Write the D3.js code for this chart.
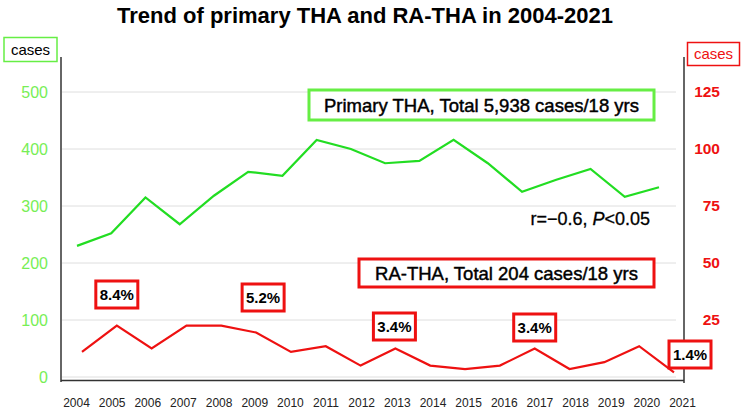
<!DOCTYPE html>
<html>
<head>
<meta charset="utf-8">
<script src="https://cdn.jsdelivr.net/npm/d3@7"></script>
<style>
  html, body { margin: 0; padding: 0; background: #fff; }
  svg { display: block; font-family: "Liberation Sans", Arial, sans-serif; }
</style>
</head>
<body>
<svg id="chart" width="742" height="412"></svg>
<script>
// ---- data ----
const years = [2004,2005,2006,2007,2008,2009,2010,2011,2012,2013,2014,2015,2016,2017,2018,2019,2020,2021];
const primaryTHA = [230,252,315,268,318,360,353,416,400,375,379,416,375,325,346,365,316,333];
const raTHA = [11,22.5,12.5,22.5,22.5,19.5,11,13.5,5,12.5,5,3.5,5,12.5,3.5,6.5,13.5,2];
const leftTicks = [0,100,200,300,400,500];
const rightTicks = [25,50,75,100,125];
const pctYears = [2005,2009,2013,2017,2021];
const pctLabels = ["8.4%","5.2%","3.4%","3.4%","1.4%"];
const titleText = "Trend of primary THA and RA-THA in 2004-2021";
const primaryLabel = "Primary THA, Total 5,938 cases/18 yrs";
const raLabel = "RA-THA, Total 204 cases/18 yrs";
const statLabel = ["r=\u22120.6, ", "P", "<0.05"];

// ---- layout ----
const svg = d3.select("#chart");
const GREEN_LINE = "#22dd22", GREEN_TXT = "#77ee55", GREEN_BOX = "#66ee44", RED = "#ee1111";
const xG = d3.scalePoint().domain(years).range([77, 659]);
const xR = d3.scalePoint().domain(years).range([82, 674]);
const xLab = d3.scalePoint().domain(years).range([76, 682]);
const yL = d3.scaleLinear().domain([0, 500]).range([377, 92]);
const yR = d3.scaleLinear().domain([0, 125]).range([377, 92]);

// gridlines
svg.append("g").selectAll("line").data(leftTicks).join("line")
  .attr("x1", 62).attr("x2", 676)
  .attr("y1", d => yL(d)).attr("y2", d => yL(d))
  .attr("stroke", "#dedede").attr("stroke-width", 1);

// left axis labels
const gl = svg.append("g").attr("transform", "translate(48,0)")
  .call(d3.axisLeft(yL).tickValues(leftTicks).tickSize(0).tickPadding(0));
gl.select(".domain").remove();
gl.selectAll("text").attr("fill", GREEN_TXT).attr("font-size", 16)
  .attr("font-family", "'Liberation Sans', Arial, sans-serif");

// right axis labels
const gr = svg.append("g").attr("transform", "translate(720,0)")
  .call(d3.axisLeft(yR).tickValues(rightTicks).tickSize(0).tickPadding(0));
gr.select(".domain").remove();
gr.selectAll("text").attr("fill", RED).attr("font-size", 15.5).attr("font-weight", "bold")
  .attr("font-family", "'Liberation Sans', Arial, sans-serif");

// axis lines
svg.append("line").attr("x1", 61).attr("x2", 61).attr("y1", 57).attr("y2", 382)
  .attr("stroke", "#333").attr("stroke-width", 1.5);
svg.append("line").attr("x1", 684).attr("x2", 684).attr("y1", 57).attr("y2", 383)
  .attr("stroke", "#333").attr("stroke-width", 1.5);
svg.append("line").attr("x1", 61).attr("x2", 684).attr("y1", 380.5).attr("y2", 380.5)
  .attr("stroke", "#333").attr("stroke-width", 1.5);

// x labels
const gx = svg.append("g").attr("transform", "translate(0,398)")
  .call(d3.axisBottom(xLab).tickSize(0).tickPadding(0));
gx.select(".domain").remove();
gx.selectAll("text").attr("fill", "#222").attr("font-size", 12)
  .attr("font-family", "'Liberation Sans', Arial, sans-serif");

// lines
svg.append("path").datum(primaryTHA)
  .attr("d", d3.line().x((d, i) => xG(years[i])).y(d => yL(d)))
  .attr("fill", "none").attr("stroke", GREEN_LINE).attr("stroke-width", 2.2);
svg.append("path").datum(raTHA)
  .attr("d", d3.line().x((d, i) => xR(years[i])).y(d => yR(d)))
  .attr("fill", "none").attr("stroke", RED).attr("stroke-width", 2.2);

// title
svg.append("text").attr("x", 365).attr("y", 23).attr("text-anchor", "middle")
  .attr("font-size", 22).attr("font-weight", "bold").attr("fill", "#000").text(titleText);

// boxes with text
function boxText(x, y, w, h, stroke, sw, txt, fill, size, weight) {
  svg.append("rect").attr("x", x).attr("y", y).attr("width", w).attr("height", h)
    .attr("fill", "#fff").attr("stroke", stroke).attr("stroke-width", sw);
  return svg.append("text").attr("x", x + w / 2).attr("y", y + h / 2)
    .attr("dy", "0.36em").attr("text-anchor", "middle")
    .attr("font-size", size).attr("font-weight", weight).attr("fill", fill).text(txt);
}
boxText(4, 37.5, 53, 24, GREEN_BOX, 1.5, "cases", "#000", 15, "normal");
boxText(687.5, 42.5, 52, 23, RED, 1.5, "cases", RED, 15, "normal");

// series labels
boxText(309, 90, 345, 30, GREEN_BOX, 3, primaryLabel, "#000", 18.5, "normal")
  .attr("stroke", "#000").attr("stroke-width", 0.45);
boxText(359, 259, 295, 28, RED, 3, raLabel, "#000", 18.5, "normal")
  .attr("stroke", "#000").attr("stroke-width", 0.45);

// stats
const st = svg.append("text").attr("x", 650).attr("y", 225).attr("text-anchor", "end")
  .attr("font-size", 18).attr("fill", "#000").attr("stroke", "#000").attr("stroke-width", 0.3);
st.append("tspan").text(statLabel[0]);
st.append("tspan").attr("font-style", "italic").text(statLabel[1]);
st.append("tspan").text(statLabel[2]);

// percent boxes
const pctDx = [0, 7, -1, 0, 16];
const pctTop = [281, 284, 313, 314, 341];
pctYears.forEach((yr, i) => {
  const cx = xR(yr) + pctDx[i];
  boxText(cx - 21, pctTop[i], 42, 27, RED, 3, pctLabels[i], "#000", 15, "bold");
});
</script>
</body>
</html>
